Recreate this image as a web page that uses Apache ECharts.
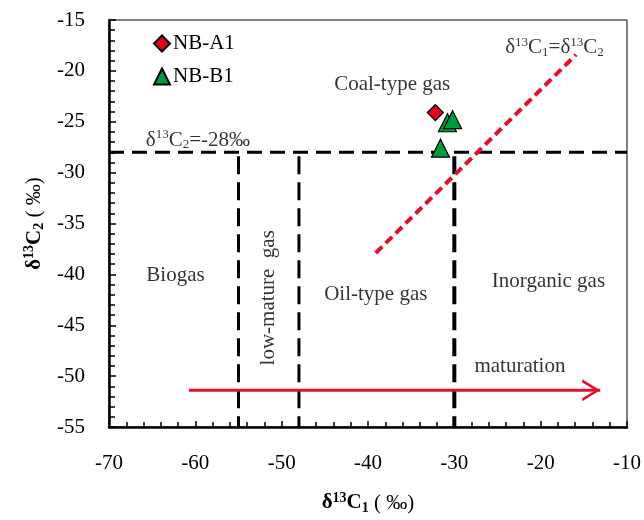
<!DOCTYPE html>
<html>
<head>
<meta charset="utf-8">
<script src="https://cdn.jsdelivr.net/npm/echarts@6/dist/echarts.min.js"></script>
<style>
  html, body { margin: 0; padding: 0; background: #fff; }
  #chart { width: 644px; height: 520px; }
</style>
</head>
<body>
<div id="chart"></div>
<script>
// sample points (δ13C1, δ13C2)
var nbA1 = [[-32.2, -24.1]]
var nbB1 = [[-30.8, -25.1], [-30.2, -24.8], [-31.6, -27.6]]

// boundaries
var c2Limit = -28
var c1Limits = [-55, -48, -30]
var equalLine = [[-39.1, -37.9], [-15.9, -18.4]]
var maturation = [[-60.75, -51.4], [-13.1, -51.4]]

// labels in the plot: [x, y, text]
var zoneLabels = [
  [-37.2, -21.3, 'Coal-type gas'],
  [-62.3, -40.1, 'Biogas'],
  [-51.5, -42.3, 'low-mature  gas'],
  [-39.1, -42.0, 'Oil-type gas'],
  [-19.1, -40.7, 'Inorganic gas'],
  [-22.4, -49.1, 'maturation'],
  [-18.4, -17.7, 'eq'],
  [-59.7, -26.8, 'c2']
]

var serif = 'Liberation Serif'
var fs = 21
var rich = {
  n: { fontFamily: serif, fontSize: fs, color: '#000' },
  sup: { fontFamily: serif, fontSize: 13, color: '#000', padding: [0, 0, 10, 0] },
  sub: { fontFamily: serif, fontSize: 13, color: '#000', padding: [10, 0, 0, 0] },
  b: { fontFamily: serif, fontSize: fs, fontWeight: 'bold', color: '#000' },
  bsup: { fontFamily: serif, fontSize: 14, fontWeight: 'bold', color: '#000', padding: [0, 0, 10, 0] },
  bsub: { fontFamily: serif, fontSize: 14, fontWeight: 'bold', color: '#000', padding: [10, 0, 0, 0] }
}

function labelText (t) {
  if (t === 'eq') return '{n|δ}{sup|13}{n|C}{sub|1}{n|=δ}{sup|13}{n|C}{sub|2}'
  if (t === 'c2') return '{n|δ}{sup|13}{n|C}{sub|2}{n|=-28‰}'
  return '{n|' + t + '}'
}

var chart = echarts.init(document.getElementById('chart'))

var series = []

// horizontal limit
series.push({
  type: 'line',
  data: [[-70, c2Limit], [-10, c2Limit]],
  symbol: 'none',
  silent: true,
  z: 3,
  lineStyle: { color: '#000', width: 3, type: [15, 8] }
})
// vertical limits
c1Limits.forEach(function (x, i) {
  series.push({
    type: 'line',
    data: [[x, c2Limit], [x, -55]],
    symbol: 'none',
    silent: true,
    z: 3,
    lineStyle: { color: '#000', width: i === 2 ? 4 : 3, type: [18, 8], dashOffset: -4 }
  })
})
// δ13C1 = δ13C2 line
series.push({
  type: 'line',
  data: equalLine,
  symbol: 'none',
  silent: true,
  z: 4,
  lineStyle: { color: '#e2102e', width: 4, type: [9, 5] }
})
// maturation arrow
series.push({
  type: 'line',
  data: [
    { value: maturation[0], symbol: 'none' },
    { value: maturation[1], symbol: 'path://M0,0 L20,12 L0,24 L0,20.5 L14.5,12 L0,3.5 Z', symbolSize: [18, 22], symbolOffset: [-9, 0] }
  ],
  showSymbol: true,
  silent: true,
  z: 4,
  itemStyle: { color: '#e2102e', borderWidth: 0 },
  lineStyle: { color: '#e2102e', width: 3 }
})
// text labels
series.push({
  type: 'scatter',
  data: zoneLabels.map(function (d) {
    var item = { value: d }
    if (d[2].indexOf('low') === 0) item.label = { rotate: 90 }
    return item
  }),
  symbolSize: 0,
  silent: true,
  z: 6,
  label: {
    show: true,
    position: 'inside',
    formatter: function (p) { return labelText(p.value[2]) },
    rich: rich
  }
})

series.push({
  name: 'NB-A1',
  type: 'scatter',
  data: nbA1,
  symbol: 'diamond',
  symbolSize: 16,
  z: 8,
  itemStyle: { color: '#e2001a', borderColor: '#000', borderWidth: 1.2, opacity: 1 }
})
series.push({
  name: 'NB-B1',
  type: 'scatter',
  data: nbB1,
  symbol: 'triangle',
  symbolSize: 18,
  z: 8,
  itemStyle: { color: '#009a3e', borderColor: '#000', borderWidth: 1.2, opacity: 1 }
})

var option = {
  animation: false,
  backgroundColor: '#fff',
  grid: {
    left: 109,
    right: 17,
    top: 20,
    bottom: 90,
    show: true,
    borderColor: '#000',
    borderWidth: 1
  },
  legend: {
    data: ['NB-A1', 'NB-B1'],
    orient: 'vertical',
    left: 148,
    top: 28,
    itemWidth: 16,
    itemHeight: 16,
    itemGap: 12,
    selectedMode: false,
    textStyle: { fontFamily: serif, fontSize: fs, color: '#000', padding: [0, 0, 0, -2] }
  },
  xAxis: {
    type: 'value',
    min: -70,
    max: -10,
    interval: 10,
    splitLine: { show: false },
    axisLine: { onZero: false, lineStyle: { color: '#000', width: 2.5 } },
    axisTick: { inside: true, length: 6, lineStyle: { color: '#000', width: 1.5 } },
    minorTick: { show: true, splitNumber: 5, length: 5, lineStyle: { color: '#000', width: 1.5 } },
    axisLabel: { fontFamily: serif, fontSize: fs, color: '#000', margin: 26 },
    name: '{b|δ}{bsup|13}{b|C}{bsub|1}{n| ( ‰)}',
    nameLocation: 'middle',
    nameGap: 64,
    nameTextStyle: { rich: rich }
  },
  yAxis: {
    type: 'value',
    min: -55,
    max: -15,
    interval: 5,
    splitLine: { show: false },
    axisLine: { onZero: false, lineStyle: { color: '#000', width: 2.5 } },
    axisTick: { inside: true, length: 7, lineStyle: { color: '#000', width: 1.5 } },
    minorTick: { show: true, splitNumber: 5, length: 6, lineStyle: { color: '#000', width: 1.5 } },
    axisLabel: { fontFamily: serif, fontSize: fs, color: '#000', margin: 24 },
    name: '{b|δ}{bsup|13}{b|C}{bsub|2}{n| ( ‰)}',
    nameLocation: 'middle',
    nameGap: 50,
    nameTextStyle: { rich: rich }
  },
  series: series
}

chart.setOption(option)
</script>
</body>
</html>
